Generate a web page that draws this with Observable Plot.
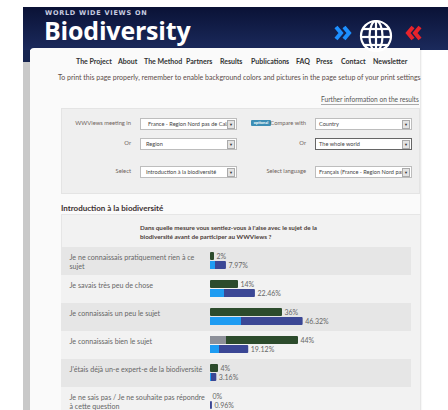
<!DOCTYPE html>
<html><head><meta charset="utf-8">
<script src="https://cdn.jsdelivr.net/npm/d3@7"></script>
<script src="https://cdn.jsdelivr.net/npm/@observablehq/plot@0.6"></script>
<style>
html,body{margin:0;padding:0;background:#fff;}
body{width:448px;height:410px;overflow:hidden;position:relative;font-family:Lato,"Open Sans",sans-serif;}
.abs{position:absolute;white-space:nowrap;}
#header{left:23px;top:7px;width:425px;height:43px;background:linear-gradient(#0a1236,#1b2a5c);}
#strip{left:23px;top:50px;width:7px;height:12px;background:#16244f;}
#strip2{left:23px;top:62px;width:7px;height:360px;background:#c9c9c9;}
#panel{left:30px;top:48px;width:390px;height:380px;background:#fafafa;border-top-left-radius:4px;box-shadow:1px 0 2px rgba(0,0,0,0.12);}
#wwv{left:45px;top:10px;font-size:6.5px;line-height:1;font-weight:900;letter-spacing:0.75px;color:#c9cde0;font-family:"DejaVu Sans",sans-serif;}
#bio{left:44px;top:18px;font-size:25px;line-height:1;font-weight:700;color:#fff;font-family:"Open Sans",sans-serif;letter-spacing:-0.2px;}
.nav{top:57px;font-size:7px;font-weight:700;color:#333;}
#print{left:58px;top:73px;font-size:7px;color:#5b4c48;}
#further{left:321px;top:95px;font-size:6.6px;color:#555;border-bottom:1px solid #aaa;line-height:9px;}
#filters{left:61px;top:108px;width:357px;height:84px;background:#efefef;border:1px solid #e4e4e4;}
.lab{font-size:5.8px;color:#6e5f5a;text-align:right;width:80px;line-height:10px;}
.sel{height:10px;background:#fff;border:1px solid #bdbdbd;font-size:5.6px;color:#444;line-height:10px;overflow:hidden;}
.sel span{position:absolute;left:5px;top:0;}
.sel i{position:absolute;right:1px;top:1px;width:6px;height:7px;background:#e3e3e3;border:1px solid #aaa;font-style:normal;font-size:4px;line-height:7px;text-align:center;color:#333;}
#badge{left:251px;top:120px;width:20px;height:6px;background:#3d8eb5;border-radius:1px;color:#fff;font-size:4px;line-height:6px;text-align:center;font-weight:700;}
#h2{left:61px;top:203px;font-size:8px;font-weight:700;color:#3a3030;}
#chartpanel{left:61px;top:214px;width:358px;height:220px;background:#f2f2f2;border:1px solid #e6e6e6;}
#question{left:140px;top:224px;font-size:6.3px;font-weight:700;color:#4b3b38;line-height:8.5px;}
#chart{left:61px;top:247px;}
</style></head>
<body>
<div id="header" class="abs"></div>
<div id="strip" class="abs"></div>
<div id="strip2" class="abs"></div>
<div id="panel" class="abs"></div>
<div id="wwv" class="abs">WORLD WIDE VIEWS ON</div>
<div id="bio" class="abs">Biodiversity</div>
<svg class="abs" style="left:330px;top:18px" width="100" height="34" viewBox="0 0 100 34">
  <polyline points="6,9 11,15 6,21" fill="none" stroke="#1d8fff" stroke-width="4"/>
  <polyline points="14,9 19,15 14,21" fill="none" stroke="#1d8fff" stroke-width="4"/>
  <g fill="none" stroke="#fff" stroke-width="2.2">
    <circle cx="46" cy="18" r="15"/>
    <ellipse cx="46" cy="18" rx="6.5" ry="15"/>
    <line x1="46" y1="3" x2="46" y2="33"/>
    <line x1="33" y1="11" x2="59" y2="11"/>
    <line x1="31" y1="19" x2="61" y2="19"/>
    <line x1="33" y1="27" x2="59" y2="27"/>
  </g>
  <polyline points="83,9 78,15 83,21" fill="none" stroke="#e8232b" stroke-width="4"/>
  <polyline points="90,9 85,15 90,21" fill="none" stroke="#e8232b" stroke-width="4"/>
</svg>
<div class="abs nav" style="left:76px">The Project</div>
<div class="abs nav" style="left:118px">About</div>
<div class="abs nav" style="left:144px">The Method</div>
<div class="abs nav" style="left:186px">Partners</div>
<div class="abs nav" style="left:220px">Results</div>
<div class="abs nav" style="left:251px">Publications</div>
<div class="abs nav" style="left:296px">FAQ</div>
<div class="abs nav" style="left:316px">Press</div>
<div class="abs nav" style="left:341px">Contact</div>
<div class="abs nav" style="left:373px">Newsletter</div>
<div id="print" class="abs">To print this page properly, remember to enable background colors and pictures in the page setup of your print settings</div>
<div id="further" class="abs">Further information on the results</div>
<div id="filters" class="abs"></div>
<div class="abs lab" style="left:51px;top:118px">WWViews meeting in</div>
<div class="abs lab" style="left:51px;top:138px">Or</div>
<div class="abs lab" style="left:51px;top:166px">Select</div>
<div id="badge" class="abs">optional</div>
<div class="abs lab" style="left:226px;top:118px">Compare with</div>
<div class="abs lab" style="left:226px;top:138px">Or</div>
<div class="abs lab" style="left:226px;top:166px">Select language</div>
<div class="abs sel" style="left:140px;top:118px;width:95px"><span style="left:7px">France - Region Nord pas de Cala</span><i>▼</i></div>
<div class="abs sel" style="left:140px;top:138px;width:95px"><span>Region</span><i>▼</i></div>
<div class="abs sel" style="left:140px;top:166px;width:95px"><span>Introduction à la biodiversité</span><i>▼</i></div>
<div class="abs sel" style="left:315px;top:118px;width:95px"><span style="left:3px">Country</span><i>▼</i></div>
<div class="abs sel" style="left:315px;top:138px;width:95px;border-color:#666"><span style="left:3px">The whole world</span><i>▼</i></div>
<div class="abs sel" style="left:315px;top:166px;width:95px"><span style="left:3px">Français (France - Region Nord pas</span><i>▼</i></div>
<div id="h2" class="abs">Introduction à la biodiversité</div>
<div id="chartpanel" class="abs"></div>
<div id="question" class="abs">Dans quelle mesure vous sentiez-vous à l'aise avec le sujet de la<br>biodiversité avant de participer au WWViews ?</div>
<div id="chart" class="abs"></div>
<script>
const categories = [
  "Je ne connaissais pratiquement rien à ce sujet",
  "Je savais très peu de chose",
  "Je connaissais un peu le sujet",
  "Je connaissais bien le sujet",
  "J'étais déjà un-e expert-e de la biodiversité",
  "Je ne sais pas / Je ne souhaite pas répondre à cette question"
];
const categoryLines = [
  "Je ne connaissais pratiquement rien à ce\nsujet",
  "Je savais très peu de chose",
  "Je connaissais un peu le sujet",
  "Je connaissais bien le sujet",
  "J'étais déjà un-e expert-e de la biodiversité",
  "Je ne sais pas / Je ne souhaite pas répondre\nà cette question"
];
const regionPct = [2, 14, 36, 44, 4, 0];
const comparePct = [7.97, 22.46, 46.32, 19.12, 3.16, 0.96];
const regionOverlayPct = [0, 0, 0, 8, 0, 0];
const compareOverlayPct = [2.5, 7, 15.5, 4.5, 0.5, 0];

const rows = categories.map((c, i) => ({
  cat: c, label: categoryLines[i], idx: i,
  region: regionPct[i], compare: comparePct[i],
  regionOv: regionOverlayPct[i], compareOv: compareOverlayPct[i]
}));

const chart = Plot.plot({
  width: 350, height: 168,
  marginLeft: 0, marginRight: 0, marginTop: 0, marginBottom: 0,
  x: {domain: [0, 100], range: [149, 349], axis: null},
  y: {domain: categories, range: [0, 168], padding: 0, axis: null},
  style: {fontFamily: "Lato, 'Open Sans', sans-serif", background: "transparent"},
  marks: [
    Plot.cell(rows, {y: "cat", fill: d => d.idx % 2 === 0 ? "#e6e6e6" : "#f2f2f2"}),
    Plot.text(rows, {y: "cat", text: "label", frameAnchor: "left", dx: 8, textAnchor: "start",
      lineAnchor: "top", dy: -8, lineHeight: 1.27, fontSize: 7.1, fill: "#666"}),
    Plot.barX(rows, {y: "cat", x1: 0, x2: "region", fill: "#2c4b2c", insetTop: 5, insetBottom: 15, rx: 1}),
    Plot.barX(rows, {y: "cat", x1: 0, x2: "regionOv", fill: "#8d9099", insetTop: 5, insetBottom: 15}),
    Plot.barX(rows, {y: "cat", x1: 0, x2: "compare", fill: "#3b4795", insetTop: 14, insetBottom: 6, rx: 1}),
    Plot.barX(rows, {y: "cat", x1: 0, x2: "compareOv", fill: "#1e9cf2", insetTop: 14, insetBottom: 6}),
    Plot.text(rows, {y: "cat", x: "region", text: d => d.region + "%", dx: 2, dy: -5,
      textAnchor: "start", fontSize: 7, fill: "#666"}),
    Plot.text(rows, {y: "cat", x: "compare", text: d => d.compare.toFixed(2) + "%", dx: 2, dy: 4,
      textAnchor: "start", fontSize: 7, fill: "#666"})
  ]
});
document.getElementById("chart").appendChild(chart);
</script>
</body></html>
